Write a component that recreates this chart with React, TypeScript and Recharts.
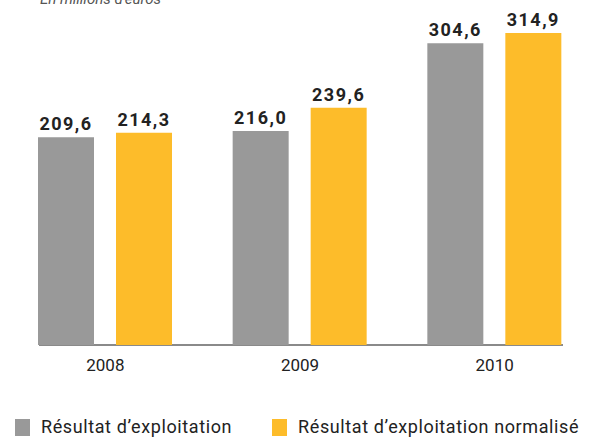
import React from 'react';
import { BarChart, Bar, XAxis, YAxis, LabelList, Legend } from 'recharts';

const YEARS = ['2008', '2009', '2010'];
const RESULTAT = [209.6, 216.0, 304.6];
const NORMALISE = [214.3, 239.6, 314.9];

const GREY = '#999999';
const YELLOW = '#fdbc2a';
const FONT = 'Roboto, "Noto Sans", sans-serif';

const data = YEARS.map((year, i) => ({
  year,
  resultat: RESULTAT[i],
  normalise: NORMALISE[i],
}));

const fmt = (v: number) => v.toFixed(1).replace('.', ',');

const LegendContent = (props: any) => {
  const items = props.payload || [];
  return (
    <div
      style={{
        display: 'flex',
        alignItems: 'center',
        fontFamily: FONT,
        fontSize: 18,
        lineHeight: '20px',
        letterSpacing: 0.6,
        color: '#222',
      }}
    >
      {items.map((it: any, i: number) => (
        <div key={i} style={{ display: 'flex', alignItems: 'center', marginRight: i === 0 ? 40 : 0 }}>
          <span style={{ display: 'inline-block', width: 15, height: 17, background: it.color, marginRight: 11 }} />
          <span>{it.value}</span>
        </div>
      ))}
    </div>
  );
};

export default function App() {
  return (
    <div style={{ position: 'absolute', left: 0, top: 0, width: 593, height: 439, background: '#fff', overflow: 'hidden' }}>
      <div
        style={{
          position: 'absolute',
          left: 40,
          top: -8,
          fontFamily: FONT,
          fontStyle: 'italic',
          fontSize: 15,
          lineHeight: '15px',
          color: '#555',
        }}
      >
        En millions d'euros
      </div>
      <div style={{ position: 'absolute', left: 39, top: 344, width: 524, height: 2, background: '#8a8a8a' }} />
      <BarChart
        width={593}
        height={439}
        data={data}
        margin={{ top: 28, right: 1, left: 8, bottom: 44 }}
        barCategoryGap={30}
        barGap={22}
        style={{ overflow: 'visible' }}
      >
        <XAxis
          dataKey="year"
          axisLine={false}
          tickLine={false}
          tickMargin={8}
          height={30}
          tick={{ fontFamily: FONT, fontSize: 17, fill: '#222' }}
        />
        <YAxis hide domain={[0, 320]} />
        <Legend
          verticalAlign="bottom"
          align="left"
          height={20}
          content={<LegendContent />}
          wrapperStyle={{ left: 15, bottom: 2, width: 580 }}
        />
        <Bar dataKey="resultat" name="Résultat d’exploitation" fill={GREY} barSize={56} isAnimationActive={false}>
          <LabelList
            dataKey="resultat"
            position="top"
            offset={7}
            formatter={(v: any) => fmt(Number(v))}
            style={{ fontFamily: FONT, fontSize: 18, fontWeight: 700, fill: '#222', letterSpacing: 1.5 }}
          />
        </Bar>
        <Bar dataKey="normalise" name="Résultat d’exploitation normalisé" fill={YELLOW} barSize={56} isAnimationActive={false}>
          <LabelList
            dataKey="normalise"
            position="top"
            offset={7}
            formatter={(v: any) => fmt(Number(v))}
            style={{ fontFamily: FONT, fontSize: 18, fontWeight: 700, fill: '#222', letterSpacing: 1.5 }}
          />
        </Bar>
      </BarChart>
    </div>
  );
}
